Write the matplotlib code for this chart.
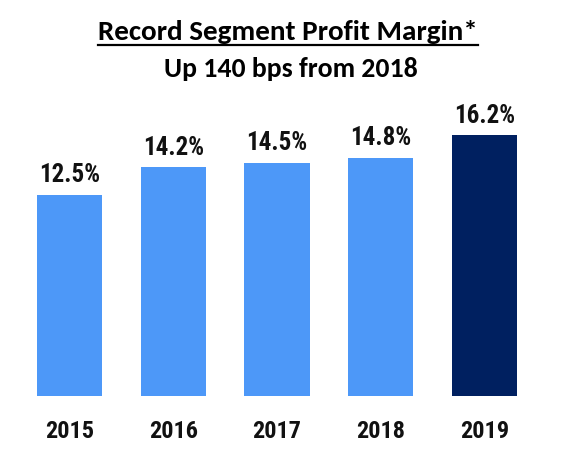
import matplotlib
matplotlib.use("Agg")
import matplotlib.pyplot as plt
from matplotlib.lines import Line2D
from matplotlib import font_manager

years = ["2015", "2016", "2017", "2018", "2019"]
margins = [12.5, 14.2, 14.5, 14.8, 16.2]
value_labels = ["12.5%", "14.2%", "14.5%", "14.8%", "16.2%"]
colors = ["#4D98F8", "#4D98F8", "#4D98F8", "#4D98F8", "#002060"]
title = "Record Segment Profit Margin*"
subtitle = "Up 140 bps from 2018"

names = {f.name for f in font_manager.fontManager.ttflist}
narrow = "Roboto Condensed" if "Roboto Condensed" in names else "DejaVu Sans"
title_font = "Carlito" if "Carlito" in names else "Lato"
tsize = 21 if title_font == "Carlito" else 20
ssize = 20 if title_font == "Carlito" else 18

W, H = 571, 456
fig = plt.figure(figsize=(W / 100, H / 100), dpi=100)
ax = fig.add_axes([0, 59 / H, 1, 397 / H])
x = list(range(len(years)))
ax.bar(x, margins, width=0.627, color=colors)
ax.set_xlim(-0.67, 4.834)
ax.set_ylim(0, 24.66)
ax.axis("off")

for xi, v, lab in zip(x, margins, value_labels):
    ax.annotate(lab, (xi, v), xytext=(0, 6), textcoords="offset points",
                ha="center", va="bottom", fontsize=18, fontweight="bold",
                family=narrow, color="#111111")
for xi, yr in zip(x, years):
    ax.annotate(yr, (xi, 0), xytext=(0, -24.5), textcoords="offset points",
                ha="center", va="center", fontsize=17.5, fontweight="bold",
                family=narrow, color="#111111")

t = fig.text(288 / W, 1 - 32 / H, title, ha="center", va="center",
             fontsize=tsize, fontweight="bold", family=title_font, color="black")
fig.text(291 / W, 1 - 69 / H, subtitle, ha="center", va="center",
         fontsize=ssize, fontweight="bold", family=title_font, color="black")

r = fig.canvas.get_renderer()
bb = t.get_window_extent(r)
uy = 1 - 45.5 / H
fig.add_artist(Line2D([bb.x0 / W, bb.x1 / W], [uy, uy], color="black",
                      linewidth=1.6, transform=fig.transFigure))

fig.savefig("out.png", dpi=100)
